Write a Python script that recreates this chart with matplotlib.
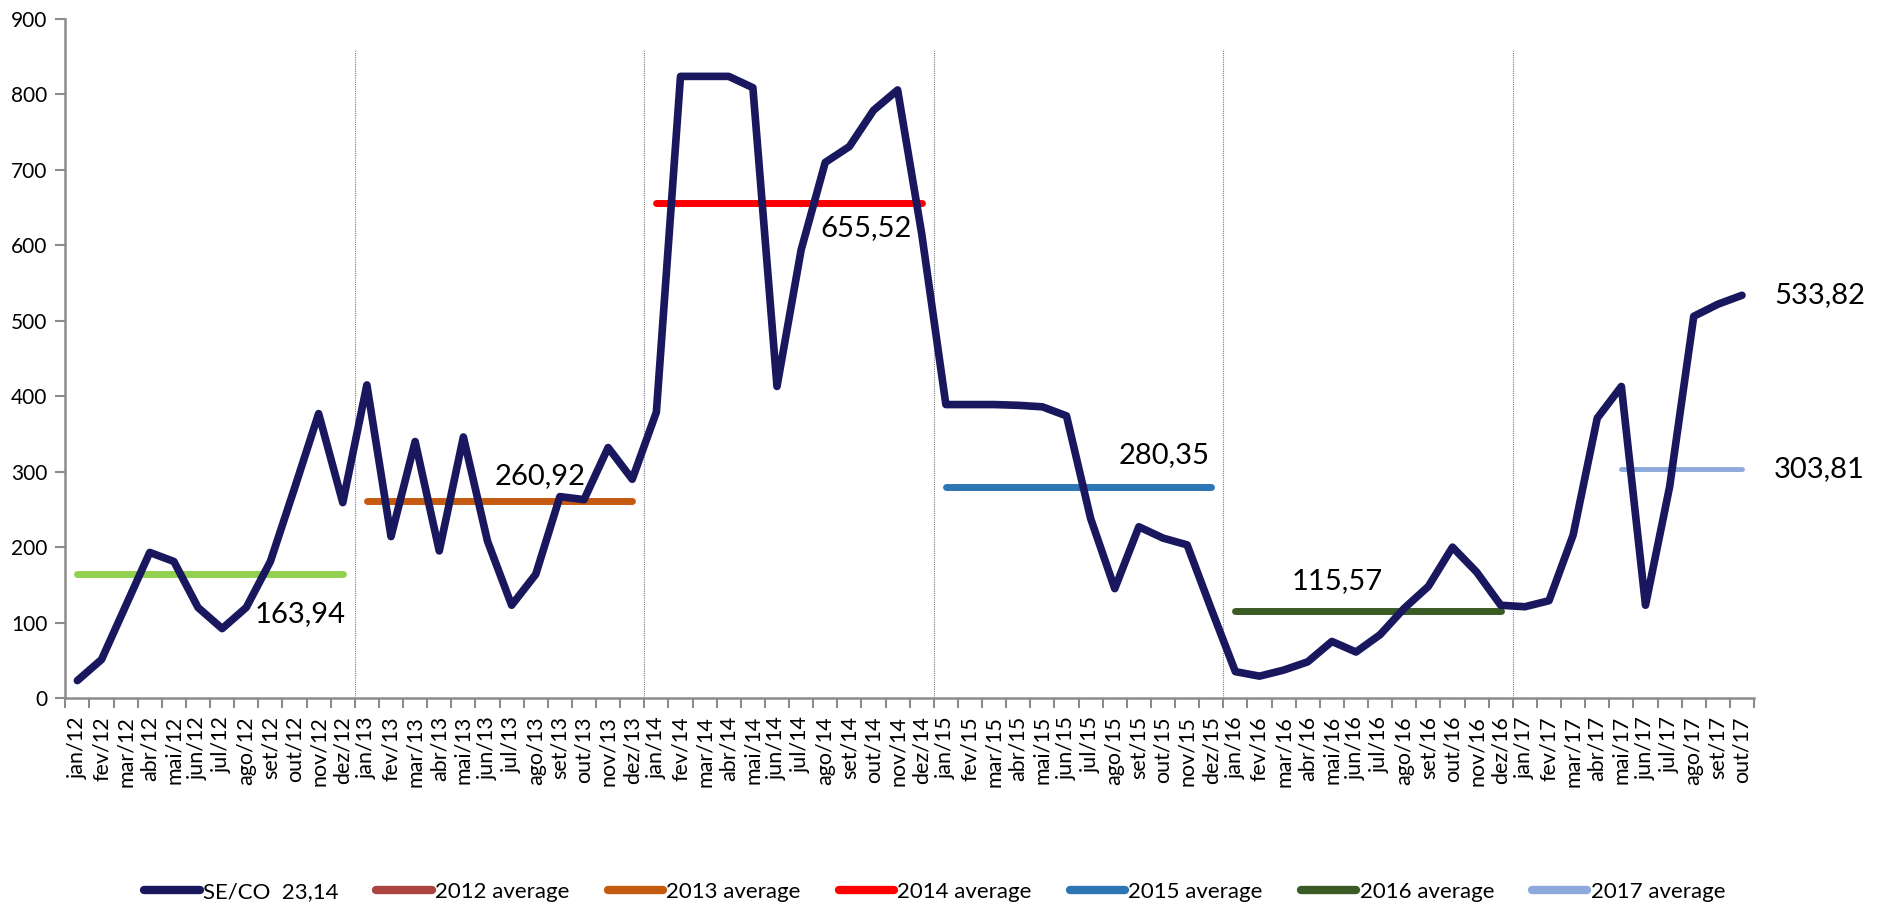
import numpy as np
import matplotlib.pyplot as plt
from matplotlib.lines import Line2D

plt.rcParams['font.family'] = ['Lato', 'DejaVu Sans']

# month labels jan/12 .. out/17
month_names = ['jan', 'fev', 'mar', 'abr', 'mai', 'jun', 'jul', 'ago', 'set', 'out', 'nov', 'dez']
years = ['12', '13', '14', '15', '16', '17']
months = [f'{m}/{y}' for y in years for m in month_names][:70]

# SE/CO monthly values
se_co_2012 = [23.14, 51, 122, 193, 181, 120, 92, 120, 181, 278, 377, 259]
se_co_2013 = [415, 214, 340, 195, 346, 208, 123, 164, 267, 263, 332, 290]
se_co_2014 = [379, 824, 824, 824, 809, 413, 594, 710, 731, 779, 806, 615]
se_co_2015 = [389, 389, 389, 388, 386, 374, 238, 145, 227, 212, 203, 118]
se_co_2016 = [35, 29, 37, 48, 75, 61, 84, 119, 148, 200, 167, 123]
se_co_2017 = [121, 129, 216, 371, 413, 123, 280, 506, 522, 533.82]
se_co = se_co_2012 + se_co_2013 + se_co_2014 + se_co_2015 + se_co_2016 + se_co_2017

# yearly averages and the months they span
avg_names = ['2012 average', '2013 average', '2014 average', '2015 average', '2016 average', '2017 average']
avg_values = [163.94, 260.92, 655.52, 280.35, 115.57, 303.81]
avg_from = ['jan/12', 'jan/13', 'jan/14', 'jan/15', 'jan/16', 'mai/17']
avg_to = ['dez/12', 'dez/13', 'dez/14', 'dez/15', 'dez/16', 'out/17']
avg_colors = ['#92D050', '#C55A11', '#FF0000', '#2E75B6', '#3B5B25', '#8EA9DB']
legend_colors = ['#A9443F', '#C55A11', '#FF0000', '#2E75B6', '#3B5B25', '#8EA9DB']
avg_widths = [5, 5, 5, 5, 5, 3.5]

line_color = '#19185E'
grey = '#8C8C8C'

fig = plt.figure(figsize=(18.77, 9.07), dpi=100)
ax = fig.add_axes([0.0348, 0.2304, 0.8997, 0.7486])

x = np.arange(len(se_co)) + 0.5
ax.plot(x, se_co, color=line_color, lw=5.5, solid_joinstyle='round',
        solid_capstyle='round', zorder=3)

# dotted separators between years
for b in range(12, len(se_co), 12):
    ax.plot([b, b], [0, 860], color='#7F7F7F', lw=0.8, ls=(0, (1, 1)), zorder=1)

for i, val in enumerate(avg_values):
    i0 = months.index(avg_from[i]) + 0.5
    i1 = months.index(avg_to[i]) + 0.5
    ax.plot([i0, i1], [val, val], color=avg_colors[i], lw=avg_widths[i],
            solid_capstyle='round', zorder=2)

def fmt(v):
    return f'{v:.2f}'.replace('.', ',')

def end_of(i):
    return months.index(avg_to[i]) + 0.5

def start_of(i):
    return months.index(avg_from[i]) + 0.5

label_kw = dict(textcoords='offset pixels', fontsize=21, va='center', color='black', zorder=4)
ax.annotate(fmt(avg_values[0]), (end_of(0), avg_values[0]), xytext=(3, -40), ha='right', **label_kw)
ax.annotate(fmt(avg_values[1]), (end_of(1), avg_values[1]), xytext=(-47, 25), ha='right', **label_kw)
ax.annotate(fmt(avg_values[2]), (end_of(2), avg_values[2]), xytext=(-10, -25), ha='right', **label_kw)
ax.annotate(fmt(avg_values[3]), (end_of(3), avg_values[3]), xytext=(-2, 31), ha='right', **label_kw)
ax.annotate(fmt(avg_values[4]), (start_of(4), avg_values[4]), xytext=(56, 30), ha='left', **label_kw)
ax.annotate(fmt(avg_values[5]), (end_of(5), avg_values[5]), xytext=(32, 0), ha='left', **label_kw)
ax.annotate(fmt(se_co[-1]), (x[-1], se_co[-1]), xytext=(32, 0), ha='left', **label_kw)

ax.set_xlim(0, len(se_co))
ax.set_ylim(0, 900)
ax.set_yticks(np.arange(0, 901, 100))
ax.set_xticks(np.arange(0, len(se_co) + 1))
ax.set_xticklabels([])
ax.set_xticks(x, minor=True)
ax.set_xticklabels(months, minor=True, rotation=90, fontsize=15.5)
ax.tick_params(axis='x', which='minor', length=0, pad=13)
ax.tick_params(axis='x', which='major', length=7, width=1.5, color=grey)
ax.tick_params(axis='y', length=7, width=1.5, color=grey, labelsize=15, pad=6)

for side in ['top', 'right']:
    ax.spines[side].set_visible(False)
for side in ['left', 'bottom']:
    ax.spines[side].set_color(grey)
    ax.spines[side].set_linewidth(1.8)

handles = [Line2D([], [], color=line_color, lw=6, solid_capstyle='round')]
handles += [Line2D([], [], color=c, lw=6, solid_capstyle='round') for c in legend_colors]
labels = ['SE/CO  23,14'] + avg_names
fig.legend(handles, labels, loc='center', bbox_to_anchor=(0.498, 15 / 907), ncol=7,
           frameon=False, fontsize=16, handlelength=2.5, handletextpad=0.15, columnspacing=1.7)

fig.savefig('out.png', dpi=100)
